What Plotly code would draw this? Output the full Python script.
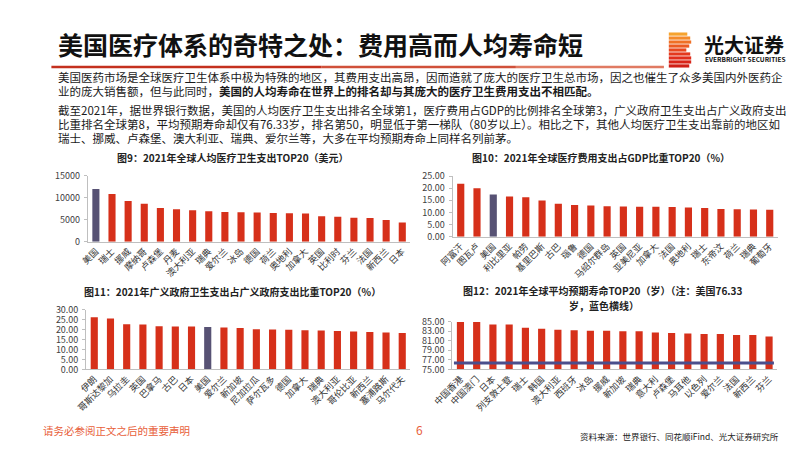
import plotly.graph_objects as go

W, H = 802, 451
FONT = "Noto Sans CJK SC"

# ---------------- data ----------------
fig9_countries = ["美国", "瑞士", "挪威", "摩纳哥", "卢森堡", "丹麦", "澳大利亚", "瑞典", "爱尔兰", "冰岛",
                  "德国", "荷兰", "奥地利", "加拿大", "英国", "比利时", "芬兰", "法国", "新西兰", "日本"]
fig9_values = [12012, 10900, 9250, 8650, 7700, 7400, 7180, 6950, 6770, 6700,
               6630, 6550, 6500, 6400, 5780, 5700, 5450, 5400, 4950, 4380]

fig10_countries = ["阿富汗", "图瓦卢", "美国", "利比里亚", "帕劳", "基里巴斯", "古巴", "瑙鲁", "德国", "马绍尔群岛",
                   "英国", "亚美尼亚", "加拿大", "法国", "奥地利", "瑞士", "东帝汶", "荷兰", "瑞典", "葡萄牙"]
fig10_values = [21.8, 20.0, 17.4, 16.6, 16.3, 14.9, 13.6, 13.1, 12.9, 12.6,
                12.4, 12.3, 12.3, 12.2, 12.0, 11.8, 11.4, 11.3, 11.2, 11.1]

fig11_countries = ["伊朗", "哥斯达黎加", "乌拉圭", "英国", "巴拿马", "古巴", "日本", "美国", "爱尔兰", "新加坡",
                   "尼加拉瓜", "萨尔瓦多", "德国", "加拿大", "瑞典", "澳大利亚", "哥伦比亚", "新西兰", "塞浦路斯", "马尔代夫"]
fig11_values = [26.1, 25.5, 22.6, 22.5, 21.7, 21.5, 21.5, 21.3, 21.0, 20.8,
                20.1, 20.0, 19.9, 19.6, 19.5, 19.3, 19.0, 18.8, 18.5, 18.3]

fig12_countries = ["中国香港", "中国澳门", "日本", "列支敦士登", "瑞士", "韩国", "澳大利亚", "西班牙", "冰岛", "挪威",
                   "新加坡", "瑞典", "意大利", "卢森堡", "马耳他", "以色列", "爱尔兰", "法国", "新西兰", "芬兰"]
fig12_values = [84.9, 84.9, 84.4, 84.4, 83.7, 83.5, 83.3, 83.2, 83.1, 83.1,
                83.0, 83.0, 82.7, 82.6, 82.5, 82.4, 82.4, 82.2, 82.2, 81.9]
us_life_expectancy = 76.33

body_lines = [
    "美国医药市场是全球医疗卫生体系中极为特殊的地区，其费用支出高昂，因而造就了庞大的医疗卫生总市场，因之也催生了众多美国内外医药企",
    "业的庞大销售额，但与此同时，<b>美国的人均寿命在世界上的排名却与其庞大的医疗卫生费用支出不相匹配。</b>",
    "截至2021年，据世界银行数据，美国的人均医疗卫生支出排名全球第1，医疗费用占GDP的比例排名全球第3，广义政府卫生支出占广义政府支出",
    "比重排名全球第8，平均预期寿命却仅有76.33岁，排名第50，明显低于第一梯队（80岁以上）。相比之下，其他人均医疗卫生支出靠前的地区如",
    "瑞士、挪威、卢森堡、澳大利亚、瑞典、爱尔兰等，大多在平均预期寿命上同样名列前茅。",
]

RED = "#D6301A"
US = "#575274"


def px(x):
    return x / W


def py(y):
    return 1 - y / H


fig = go.Figure()

charts = [
    (fig9_countries, fig9_values, "美国", (60.4, 391.6), (165.7, 233.4), [0, 15000], 5000, "d"),
    (fig10_countries, fig10_values, "美国", (435.0, 769.0), (165.8, 228.3), [0, 25], 5, ".2f"),
    (fig11_countries, fig11_values, "美国", (58.7, 391.6), (303.3, 365.0), [0, 30], 5, ".2f"),
    (fig12_countries, fig12_values, None, (434.7, 768.3), (315.7, 365.0), [75, 85], 2, ".2f"),
]

for i, (cats, vals, hl, xd, yd, rng, dt, fmt) in enumerate(charts, start=1):
    colors = [US if c == hl else RED for c in cats]
    fig.add_trace(go.Bar(x=cats, y=vals, marker=dict(color=colors, line=dict(width=0)),
                         xaxis=f"x{i}", yaxis=f"y{i}", showlegend=False))
    sfx = "" if i == 1 else str(i)
    fig.layout[f"xaxis{sfx}"] = dict(
        domain=[px(xd[0]), px(xd[1])], anchor=f"y{i}", tickangle=-45,
        tickfont=dict(family=FONT, size=9, color="#333333"),
        showline=True, linecolor="#BFBFBF", linewidth=1, showgrid=False,
        ticks="", fixedrange=True)
    fig.layout[f"yaxis{sfx}"] = dict(
        domain=[py(yd[1]), py(yd[0])], anchor=f"x{i}", range=rng, dtick=dt,
        tick0=rng[0], tickformat=fmt,
        tickfont=dict(family=FONT, size=9, color="#404040"),
        showline=True, linecolor="#BFBFBF", linewidth=1, showgrid=False,
        ticks="outside", ticklen=3, tickcolor="#BFBFBF", zeroline=False,
        ticklabelstandoff=2, fixedrange=True)

# US life expectancy reference line on fig12
fig.add_shape(type="line", xref="x4 domain", yref="y4", x0=0.005, x1=0.99,
              y0=us_life_expectancy, y1=us_life_expectancy,
              line=dict(color="#4B4E8C", width=3))


def note(text, x, y, size, color, xanchor="left"):
    return dict(text=text, x=px(x), y=py(y), xref="paper", yref="paper",
                xanchor=xanchor, yanchor="middle", showarrow=False,
                font=dict(family=FONT, size=size, color=color))


ann = []
ann.append(note("<b>美国医疗体系的奇特之处：费用高而人均寿命短</b>", 28, 30, 25, "#111111"))
body_y = [63.5, 78.5, 98, 112.5, 126.5]
for t, yy in zip(body_lines, body_y):
    ann.append(note(t, 28, yy, 11.5, "#1A1A1A"))
fig_titles = [
    ("<b>图9：2021年全球人均医疗卫生支出TOP20（美元）</b>", 209, 147),
    ("<b>图10：2021年全球医疗费用支出占GDP比重TOP20（%）</b>", 587, 147),
    ("<b>图11：2021年广义政府卫生支出占广义政府支出比重TOP20（%）</b>", 209, 285),
    ("<b>图12：2021年全球平均预期寿命TOP20（岁）（注：美国76.33</b>", 589, 284),
    ("<b>岁，蓝色横线）</b>", 590, 299),
]
for t, xx, yy in fig_titles:
    ann.append(note(t, xx, yy, 10, "#222222", xanchor="center"))
ann.append(note("<b>光大证券</b>", 691, 30.5, 20, "#111111"))
ann.append(note("<b>EVERBRIGHT SECURITIES</b>", 692, 45, 6.5, "#111111"))
ann.append(note("请务必参阅正文之后的重要声明", 12, 428, 10.5, "#E8603A"))
ann.append(note("6", 401, 427, 12, "#E8603A", xanchor="center"))
ann.append(note("资料来源：世界银行、同花顺iFind、光大证券研究所", 772, 434, 8.5, "#222222", xanchor="right"))

shapes = []
shapes.append(dict(type="rect", xref="paper", yref="paper", x0=0, x1=1, y0=0, y1=1,
                   line=dict(color="#8A8A8A", width=2), fillcolor="rgba(0,0,0,0)"))
segs = [(23, 300, "#C4301E"), (300, 500, "#D0503A"), (500, 652, "#E07A62")]
for x0, x1, c in segs:
    shapes.append(dict(type="line", xref="paper", yref="paper", x0=px(x0), x1=px(x1),
                       y0=py(53.5), y1=py(53.5), line=dict(color=c, width=2.5)))
stripe_w = [19, 22, 23, 21, 18, 22, 23, 23, 21]
stripe_c = ["#F6A32E", "#F48A2A", "#F07026", "#EC5A22", "#E8471F", "#E4381D", "#E02D1B", "#D9261A", "#D02018"]
for k, (w, c) in enumerate(zip(stripe_w, stripe_c)):
    y0 = 18 + k * 4.1
    shapes.append(dict(type="rect", xref="paper", yref="paper", x0=px(657), x1=px(657 + w),
                       y0=py(y0 + 3.3), y1=py(y0), line=dict(width=0), fillcolor=c))

fig.update_layout(
    width=W, height=H, margin=dict(l=0, r=0, t=0, b=0),
    paper_bgcolor="white", plot_bgcolor="white",
    bargap=0.56, annotations=ann, shapes=shapes,
    font=dict(family=FONT),
)

fig.write_html("out.html", config={"displayModeBar": False})
